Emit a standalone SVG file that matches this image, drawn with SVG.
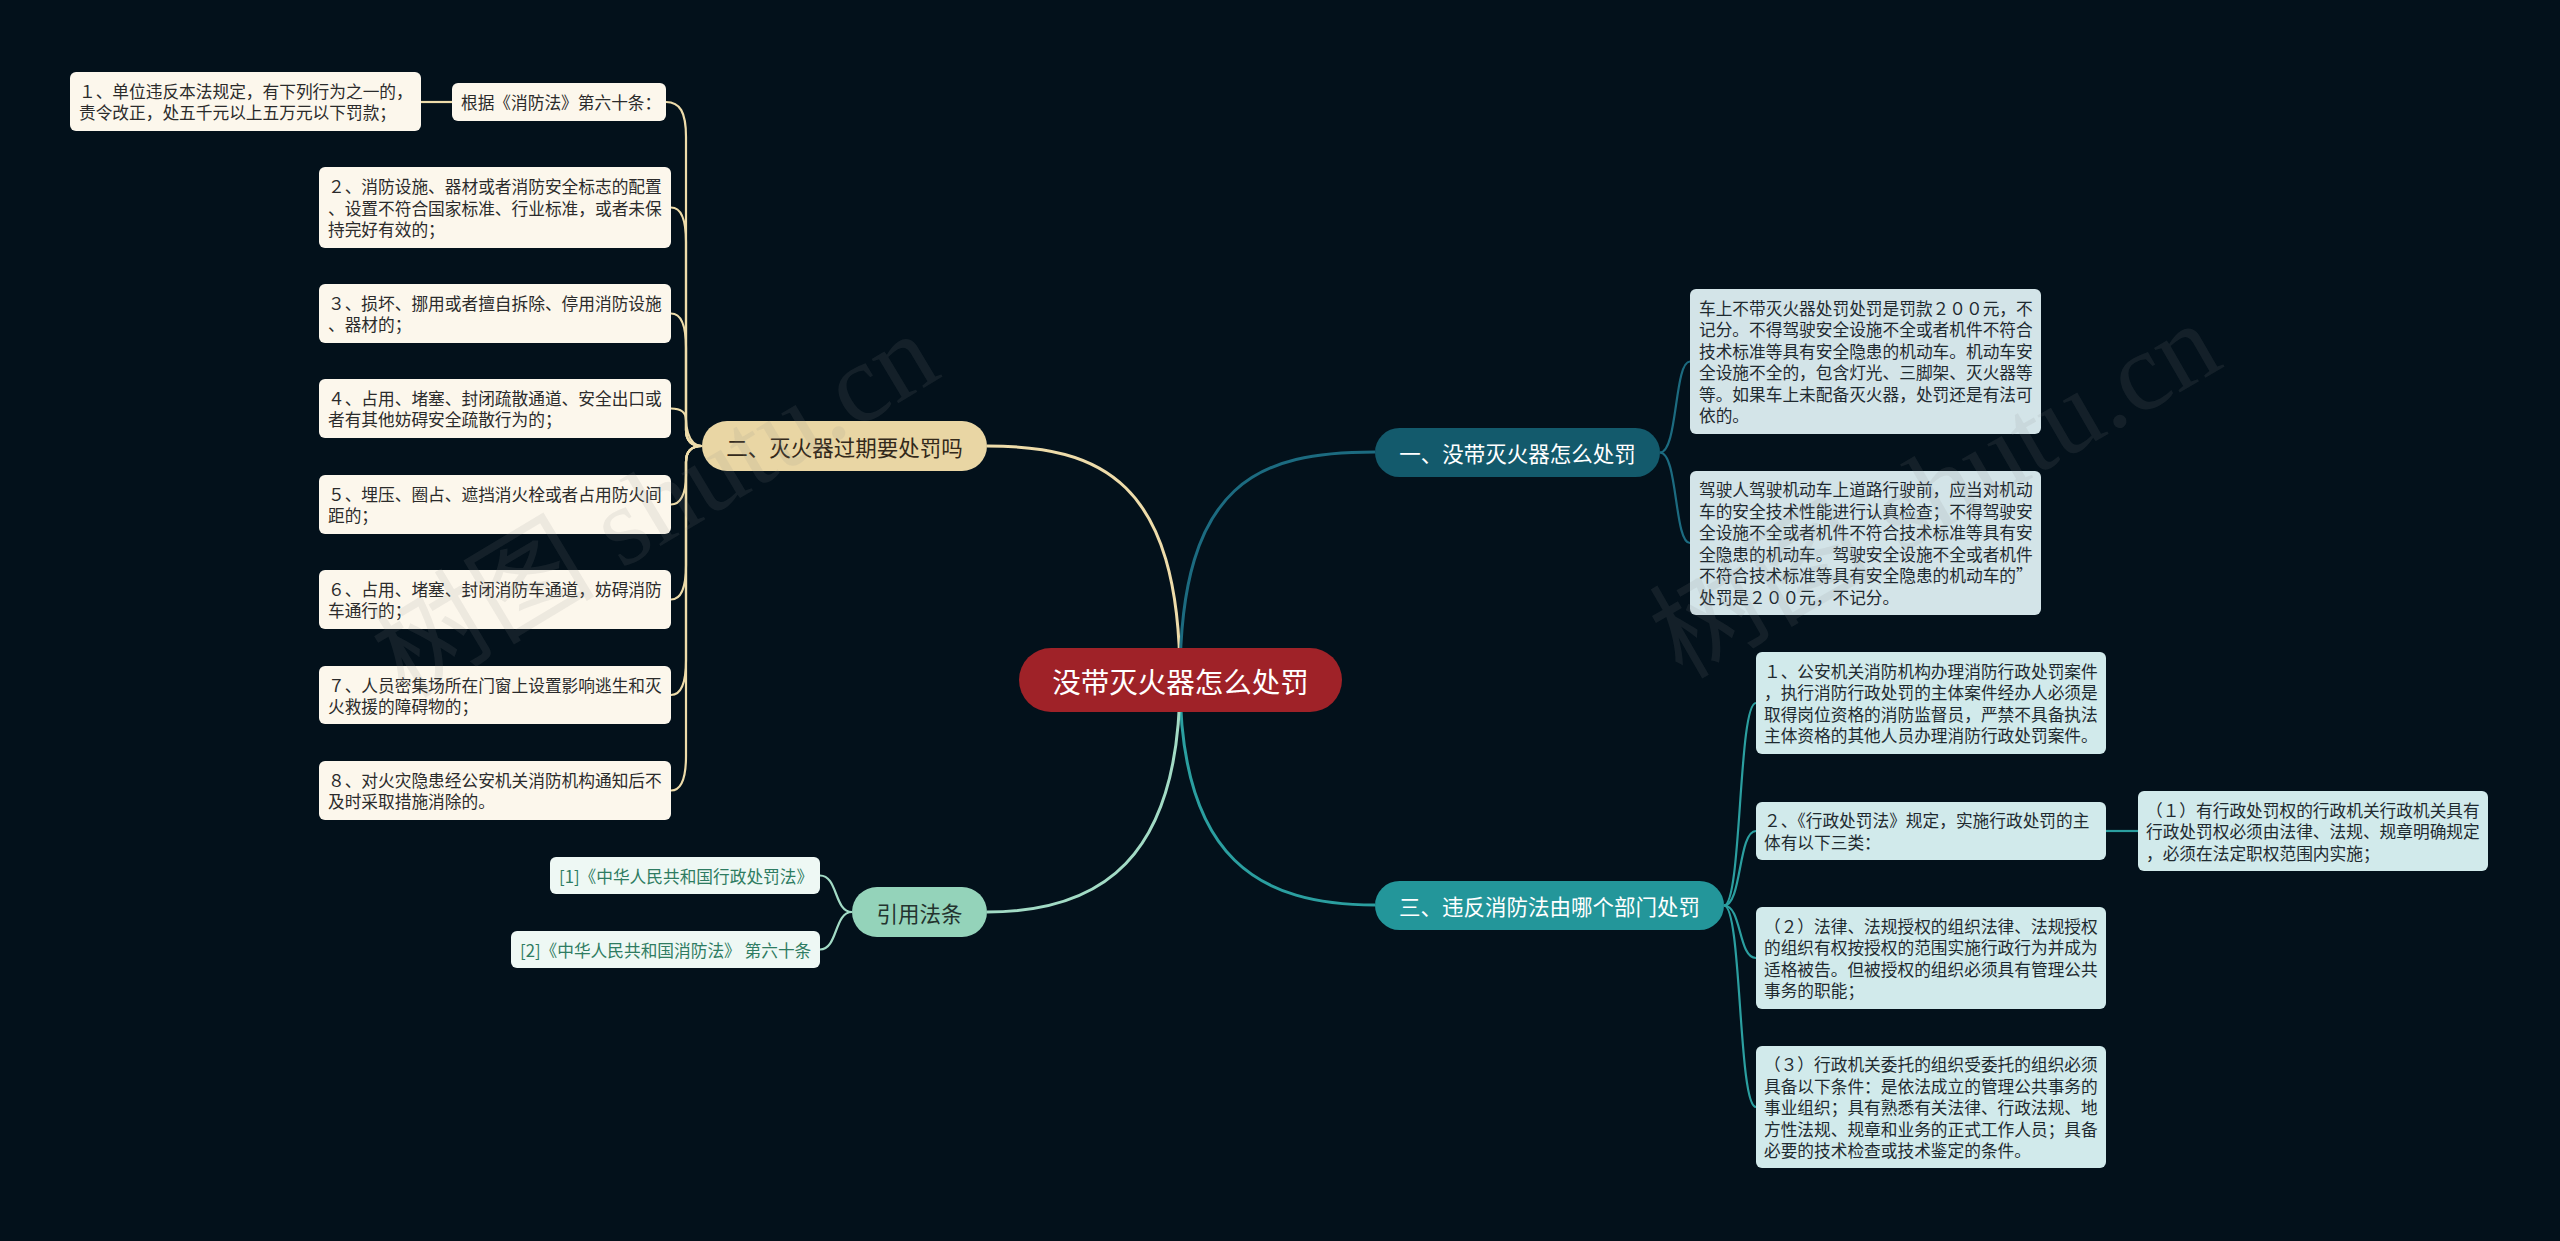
<svg xmlns="http://www.w3.org/2000/svg" width="2560" height="1241" viewBox="0 0 2560 1241">
<style>
text{font-family:"Noto Sans CJK SC","Noto Sans",sans-serif;dominant-baseline:central}
.t{font-size:16.7px;fill:#2b2b2b}
.tb{font-size:16.7px;fill:#1f2a30}
.tr{font-size:16.7px;fill:#2e7c62}
.box-l{fill:#fcf7ec}
.box-a{fill:#d3e4e8}
.box-c{fill:#d1eaeb}
.box-r{fill:#eef8f4}
.ln{fill:none;stroke-width:2.2}
.tan{stroke:#eedcaa}
.dk{stroke:#1c6b80}
.tl{stroke:#2b9fa0}
.mt{stroke:#a2dbc5}
.main{stroke-width:3}
.node-t{font-size:21.5px;text-anchor:middle}
.wm{font-family:"Liberation Serif","Noto Sans CJK SC",serif;font-size:112px;fill:#8a8a8a;fill-opacity:0.13;text-anchor:middle}
</style>
<rect width="2560" height="1241" fill="#03111b"/>

<g id="connectors">
  <path class="ln tan main" d="M1180 680 C1180 480,1100 446,987 446"/>
  <path class="ln dk main" d="M1180 680 C1180 480,1260 452,1375 452"/>
  <path class="ln tl main" d="M1180 680 C1180 860,1260 905,1375 905"/>
  <path class="ln mt main" d="M1180 680 C1180 860,1100 912,987 912"/>
  <!-- 二 children -->
  <path class="ln tan" d="M702 446 Q686 446 686 430 L686 137 C686 112,680 102,666 102"/>
  <path class="ln tan" d="M452 102 L421 102"/>
  <path class="ln tan" d="M702 446 Q686 446 686 430 L686 242 C686 217,680 207.5,671 207.5"/>
  <path class="ln tan" d="M702 446 Q686 446 686 430 L686 348 C686 323,680 313.5,671 313.5"/>
  <path class="ln tan" d="M702 446 C686 446,686 420,686 420 C686 412,680 408.5,671 408.5"/>
  <path class="ln tan" d="M702 446 Q686 446 686 462 L686 475 C686 495,680 504.5,671 504.5"/>
  <path class="ln tan" d="M702 446 Q686 446 686 462 L686 565 C686 590,680 599.5,671 599.5"/>
  <path class="ln tan" d="M702 446 Q686 446 686 462 L686 660 C686 685,680 695,671 695"/>
  <path class="ln tan" d="M702 446 Q686 446 686 462 L686 756 C686 781,680 790.5,671 790.5"/>
  <!-- 一 children -->
  <path class="ln dk" d="M1660 452.5 C1678 452.5,1674 361.5,1690 361.5"/>
  <path class="ln dk" d="M1660 452.5 C1678 452.5,1674 543,1690 543"/>
  <!-- 三 children -->
  <path class="ln tl" d="M1724 905.5 C1742 905.5,1738 703,1756 703"/>
  <path class="ln tl" d="M1724 905.5 C1742 905.5,1738 831,1756 831"/>
  <path class="ln tl" d="M1724 905.5 C1742 905.5,1738 958,1756 958"/>
  <path class="ln tl" d="M1724 905.5 C1742 905.5,1738 1107,1756 1107"/>
  <path class="ln tl" d="M2106 831 L2138 831"/>
  <!-- 引用 children -->
  <path class="ln mt" d="M852 912 C834 912,838 875.5,820 875.5"/>
  <path class="ln mt" d="M852 912 C834 912,838 949.5,820 949.5"/>
</g>

<g id="root">
  <rect x="1019" y="648" width="323" height="64" rx="32" fill="#9f2228"/>
  <text x="1180.5" y="680" font-size="28.5" fill="#ffffff" text-anchor="middle">没带灭火器怎么处罚</text>
</g>

<g id="n2">
  <rect x="702" y="421" width="285" height="50" rx="25" fill="#e9d6a4"/>
  <text class="node-t" x="844.5" y="446" fill="#33291a">二、灭火器过期要处罚吗</text>
</g>
<g id="n2-0">
  <rect class="box-l" x="452" y="83" width="214" height="38" rx="6"/>
  <text class="t" x="461" y="102">根据《消防法》第六十条：</text>
</g>
<g id="n2-0-1">
  <rect class="box-l" x="70" y="72" width="351" height="59" rx="6"/>
  <text class="t" x="79"><tspan x="79" y="90.75">１、单位违反本法规定，有下列行为之一的，</tspan><tspan x="79" y="112.25">责令改正，处五千元以上五万元以下罚款；</tspan></text>
</g>
<g id="n2-2">
  <rect class="box-l" x="319" y="167" width="352" height="81" rx="6"/>
  <text class="t"><tspan x="328" y="186">２、消防设施、器材或者消防安全标志的配置</tspan><tspan x="328" y="207.5">、设置不符合国家标准、行业标准，或者未保</tspan><tspan x="328" y="229">持完好有效的；</tspan></text>
</g>
<g id="n2-3">
  <rect class="box-l" x="319" y="284" width="352" height="59" rx="6"/>
  <text class="t"><tspan x="328" y="302.75">３、损坏、挪用或者擅自拆除、停用消防设施</tspan><tspan x="328" y="324.25">、器材的；</tspan></text>
</g>
<g id="n2-4">
  <rect class="box-l" x="319" y="379" width="352" height="59" rx="6"/>
  <text class="t"><tspan x="328" y="397.75">４、占用、堵塞、封闭疏散通道、安全出口或</tspan><tspan x="328" y="419.25">者有其他妨碍安全疏散行为的；</tspan></text>
</g>
<g id="n2-5">
  <rect class="box-l" x="319" y="475" width="352" height="59" rx="6"/>
  <text class="t"><tspan x="328" y="493.75">５、埋压、圈占、遮挡消火栓或者占用防火间</tspan><tspan x="328" y="515.25">距的；</tspan></text>
</g>
<g id="n2-6">
  <rect class="box-l" x="319" y="570" width="352" height="59" rx="6"/>
  <text class="t"><tspan x="328" y="588.75">６、占用、堵塞、封闭消防车通道，妨碍消防</tspan><tspan x="328" y="610.25">车通行的；</tspan></text>
</g>
<g id="n2-7">
  <rect class="box-l" x="319" y="666" width="352" height="58" rx="6"/>
  <text class="t"><tspan x="328" y="684.5">７、人员密集场所在门窗上设置影响逃生和灭</tspan><tspan x="328" y="706">火救援的障碍物的；</tspan></text>
</g>
<g id="n2-8">
  <rect class="box-l" x="319" y="761" width="352" height="59" rx="6"/>
  <text class="t"><tspan x="328" y="779.75">８、对火灾隐患经公安机关消防机构通知后不</tspan><tspan x="328" y="801.25">及时采取措施消除的。</tspan></text>
</g>

<g id="n1">
  <rect x="1375" y="428" width="285" height="49" rx="24.5" fill="#135a6c"/>
  <text class="node-t" x="1517.5" y="452.5" fill="#ffffff">一、没带灭火器怎么处罚</text>
</g>
<g id="n1-a">
  <rect class="box-a" x="1690" y="289" width="351" height="145" rx="6"/>
  <text class="tb"><tspan x="1699" y="307.75">车上不带灭火器处罚处罚是罚款２００元，不</tspan><tspan x="1699" y="329.25">记分。不得驾驶安全设施不全或者机件不符合</tspan><tspan x="1699" y="350.75">技术标准等具有安全隐患的机动车。机动车安</tspan><tspan x="1699" y="372.25">全设施不全的，包含灯光、三脚架、灭火器等</tspan><tspan x="1699" y="393.75">等。如果车上未配备灭火器，处罚还是有法可</tspan><tspan x="1699" y="415.25">依的。</tspan></text>
</g>
<g id="n1-b">
  <rect class="box-a" x="1690" y="471" width="351" height="144" rx="6"/>
  <text class="tb"><tspan x="1699" y="489.25">驾驶人驾驶机动车上道路行驶前，应当对机动</tspan><tspan x="1699" y="510.75">车的安全技术性能进行认真检查；不得驾驶安</tspan><tspan x="1699" y="532.25">全设施不全或者机件不符合技术标准等具有安</tspan><tspan x="1699" y="553.75">全隐患的机动车。驾驶安全设施不全或者机件</tspan><tspan x="1699" y="575.25">不符合技术标准等具有安全隐患的机动车的”</tspan><tspan x="1699" y="596.75">处罚是２００元，不记分。</tspan></text>
</g>

<g id="n3">
  <rect x="1375" y="881" width="349" height="49" rx="24.5" fill="#23969a"/>
  <text class="node-t" x="1549.5" y="905.5" fill="#ffffff">三、违反消防法由哪个部门处罚</text>
</g>
<g id="n3-1">
  <rect class="box-c" x="1756" y="652" width="350" height="102" rx="6"/>
  <text class="tb"><tspan x="1764" y="670.75">１、公安机关消防机构办理消防行政处罚案件</tspan><tspan x="1764" y="692.25">，执行消防行政处罚的主体案件经办人必须是</tspan><tspan x="1764" y="713.75">取得岗位资格的消防监督员，严禁不具备执法</tspan><tspan x="1764" y="735.25">主体资格的其他人员办理消防行政处罚案件。</tspan></text>
</g>
<g id="n3-2">
  <rect class="box-c" x="1756" y="802" width="350" height="58" rx="6"/>
  <text class="tb"><tspan x="1764" y="820.25">２、《行政处罚法》规定，实施行政处罚的主</tspan><tspan x="1764" y="841.75">体有以下三类：</tspan></text>
</g>
<g id="n3-2-1">
  <rect class="box-c" x="2138" y="791" width="350" height="80" rx="6"/>
  <text class="tb"><tspan x="2146" y="809.5">（１）有行政处罚权的行政机关行政机关具有</tspan><tspan x="2146" y="831">行政处罚权必须由法律、法规、规章明确规定</tspan><tspan x="2146" y="852.5">，必须在法定职权范围内实施；</tspan></text>
</g>
<g id="n3-3">
  <rect class="box-c" x="1756" y="907" width="350" height="102" rx="6"/>
  <text class="tb"><tspan x="1764" y="925.75">（２）法律、法规授权的组织法律、法规授权</tspan><tspan x="1764" y="947.25">的组织有权按授权的范围实施行政行为并成为</tspan><tspan x="1764" y="968.75">适格被告。但被授权的组织必须具有管理公共</tspan><tspan x="1764" y="990.25">事务的职能；</tspan></text>
</g>
<g id="n3-4">
  <rect class="box-c" x="1756" y="1046" width="350" height="122" rx="6"/>
  <text class="tb"><tspan x="1764" y="1064">（３）行政机关委托的组织受委托的组织必须</tspan><tspan x="1764" y="1085.5">具备以下条件：是依法成立的管理公共事务的</tspan><tspan x="1764" y="1107">事业组织；具有熟悉有关法律、行政法规、地</tspan><tspan x="1764" y="1128.5">方性法规、规章和业务的正式工作人员；具备</tspan><tspan x="1764" y="1150">必要的技术检查或技术鉴定的条件。</tspan></text>
</g>

<g id="n4">
  <rect x="852" y="887" width="135" height="50" rx="25" fill="#94d3ba"/>
  <text class="node-t" x="919.5" y="912" fill="#23332e">引用法条</text>
</g>
<g id="n4-1">
  <rect class="box-r" x="550" y="857" width="270" height="37" rx="6"/>
  <text class="tr" x="559" y="875.5">[1]《中华人民共和国行政处罚法》</text>
</g>
<g id="n4-2">
  <rect class="box-r" x="511" y="931" width="309" height="37" rx="6"/>
  <text class="tr" x="520" y="949.5">[2]《中华人民共和国消防法》 第六十条</text>
</g>

<g id="watermark">
  <text class="wm" transform="translate(655 505) rotate(-31)">树图 shutu.cn</text>
  <text class="wm" transform="translate(1935 490) rotate(-30)">树图 shutu.cn</text>
</g>
</svg>
